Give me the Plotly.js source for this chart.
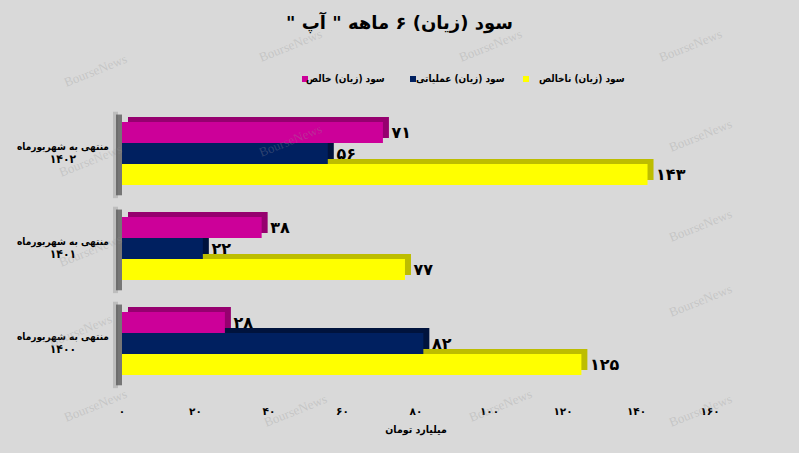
<!DOCTYPE html>
<html>
<head>
<meta charset="utf-8">
<script src="https://cdn.plot.ly/plotly-3.0.1.min.js"></script>
<style>html,body{margin:0;padding:0;background:#d9d9d9;}#chart{width:799px;height:453px;}</style>
</head>
<body>
<div id="chart"></div>
<script>
// ---- data ----
var categories = ['1400', '1401', '1402'];
var categoryPrefix = 'منتهی به شهریورماه';
var categoryYears = ['۱۴۰۰', '۱۴۰۱', '۱۴۰۲'];
var seriesNames = ['سود (زیان) ناخالص', 'سود (زیان) عملیاتی', 'سود (زیان) خالص'];
var grossProfit = [125, 77, 143];
var operatingProfit = [82, 22, 56];
var netProfit = [28, 38, 71];
var tickValues = [0, 20, 40, 60, 80, 100, 120, 140, 160];
var tickLabels = ['۰', '۲۰', '۴۰', '۶۰', '۸۰', '۱۰۰', '۱۲۰', '۱۴۰', '۱۶۰'];
var titleText = 'سود (زیان) ۶ ماهه " آپ "\u200F';
var xTitle = 'میلیارد تومان';

// ---- style ----
var colors = ['#FFFF00', '#002060', '#CC0099'];
var depthColors = ['#BDBD00', '#00133D', '#96006F'];
var FONT = 'DejaVu Sans, sans-serif';
var CFONT = 'DejaVu Sans Condensed, DejaVu Sans, sans-serif';

function fa(n) {
  var d = '۰۱۲۳۴۵۶۷۸۹';
  return String(n).replace(/[0-9]/g, function (c) { return d[+c]; });
}

var W = 799, H = 453, L = 122, R = 89, T = 106, B = 62;
var pw = W - L - R, ph = H - T - B;
function px2x(p) { return (p - L) / pw; }
function py2y(p) { return (H - B - p) / ph; }
var XMAX = 160;
var DX = 6, DY = 5; // 3D depth in px
var dxu = DX * XMAX / pw, dyu = DY * 3 / ph;

var seriesValues = [grossProfit, operatingProfit, netProfit];
var traces = [];
// depth (3D side/top faces) on base axes, drawn first
seriesValues.forEach(function (vals, i) {
  traces.push({
    type: 'bar', orientation: 'h', name: seriesNames[i] + ' depth', showlegend: false,
    y: categories, x: vals, xaxis: 'x', yaxis: 'y',
    marker: {color: depthColors[i], line: {width: 0}}, hoverinfo: 'skip'
  });
});
// front faces
seriesValues.forEach(function (vals, i) {
  traces.push({
    type: 'bar', orientation: 'h', name: seriesNames[i], showlegend: false,
    y: categories, x: vals, xaxis: 'x2', yaxis: 'y2',
    text: vals.map(function (v) { return '\u00A0' + fa(v); }), textposition: 'outside', cliponaxis: false,
    textfont: {family: FONT, size: 16, color: '#000', weight: 'bold'},
    marker: {color: colors[i], line: {width: 0}},
    hoverinfo: 'x+name'
  });
});

var shapes = [];
var annotations = [];

// category labels and left wall shadow
categories.forEach(function (c, i) {
  annotations.push({
    xref: 'paper', yref: 'y2', x: px2x(63), y: i, xanchor: 'center', yanchor: 'middle',
    text: categoryPrefix + '<br><span style="font-size:12px">' + categoryYears[i] + '</span>',
    showarrow: false, align: 'center',
    font: {family: CFONT, size: 10, color: '#000', weight: 'bold'}
  });
  shapes.push({type: 'rect', layer: 'below', xref: 'paper', yref: 'y2',
    x0: px2x(113), x1: px2x(118), y0: i - 0.47, y1: i + 0.44,
    fillcolor: 'rgba(90,90,90,0.22)', line: {width: 0}});
  shapes.push({type: 'rect', layer: 'below', xref: 'paper', yref: 'y2',
    x0: px2x(116), x1: px2x(122), y0: i - 0.44, y1: i + 0.41,
    fillcolor: 'rgba(75,75,75,0.7)', line: {width: 0}});
});

// custom legend: square, then text ending at fixed right edge
var legendSquareX = [523, 410, 302];
var legendTextRight = [627, 507, 387];
seriesNames.forEach(function (n, i) {
  shapes.push({type: 'rect', xref: 'paper', yref: 'paper',
    x0: px2x(legendSquareX[i]), x1: px2x(legendSquareX[i] + 6), y0: py2y(82), y1: py2y(76),
    fillcolor: colors[i], line: {width: 0}});
  annotations.push({xref: 'paper', yref: 'paper', x: px2x(legendTextRight[i]), y: py2y(79),
    xanchor: 'right', yanchor: 'middle', text: n, showarrow: false,
    font: {family: CFONT, size: 10, color: '#000', weight: 'bold'}});
});

// watermark
var wm = [[95,70],[290,45],[490,45],[690,45],[90,160],[290,140],[700,135],[90,250],[700,225],[80,330],[700,300],[95,405],[295,410],[500,405],[700,410]];
wm.forEach(function (p) {
  annotations.push({
    xref: 'paper', yref: 'paper', x: px2x(p[0]), y: py2y(p[1]), xanchor: 'center', yanchor: 'middle',
    text: 'BourseNews', showarrow: false, textangle: -22,
    font: {family: 'Liberation Serif, serif', size: 13, color: 'rgba(150,150,150,0.3)'}
  });
});

var layout = {
  width: W, height: H,
  paper_bgcolor: '#d9d9d9', plot_bgcolor: 'rgba(0,0,0,0)',
  margin: {l: L, r: R, t: T, b: B},
  title: {text: titleText, x: 0.5, xanchor: 'center', y: 0.95, yanchor: 'middle',
          font: {family: FONT, size: 18, color: '#000', weight: 'bold'}},
  barmode: 'group', bargap: 0.337, bargroupgap: 0,
  showlegend: false,
  xaxis: {range: [-dxu, XMAX - dxu], visible: false, fixedrange: true},
  yaxis: {type: 'category', categoryorder: 'array', categoryarray: categories,
          range: [-0.5 - dyu, 2.5 - dyu], visible: false},
  xaxis2: {overlaying: 'x', anchor: 'y2', side: 'bottom', range: [0, XMAX],
          tickmode: 'array', tickvals: tickValues, ticktext: tickLabels,
          showgrid: false, zeroline: false, showline: false, ticks: '', ticklabelstandoff: 12,
          tickfont: {family: FONT, size: 10.5, color: '#000', weight: 'bold'},
          title: {text: xTitle, standoff: 10, font: {family: CFONT, size: 10.5, color: '#000', weight: 'bold'}}},
  yaxis2: {overlaying: 'y', anchor: 'x2', type: 'category', categoryorder: 'array', categoryarray: categories,
          range: [-0.5, 2.5], showticklabels: false, showgrid: false, zeroline: false, showline: false, ticks: ''},
  shapes: shapes,
  annotations: annotations
};

Plotly.newPlot('chart', traces, layout, {displayModeBar: false, staticPlot: true});
</script>
</body>
</html>
